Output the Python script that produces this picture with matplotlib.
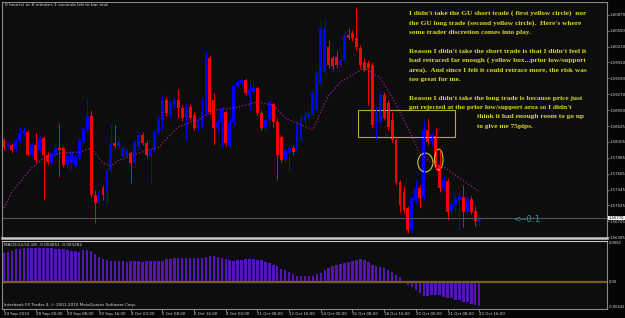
import numpy as np
import matplotlib
matplotlib.use("Agg")
import matplotlib.pyplot as plt
from matplotlib.patches import Rectangle, Ellipse

# GBPUSD H4 bars, 24 Sep 2010 16:00 .. 22 Oct 2010 16:00
opens = [1.5834, 1.5820, 1.5824, 1.5816, 1.5832, 1.5849, 1.5851, 1.5804, 1.5824, 1.5814,
         1.5839, 1.5804, 1.5790, 1.5804, 1.5818, 1.5818, 1.5784, 1.5788, 1.5782, 1.5798,
         1.5830, 1.5855, 1.5883, 1.5724, 1.5707, 1.5738, 1.5728, 1.5774, 1.5828, 1.5822,
         1.5800, 1.5802, 1.5808, 1.5788, 1.5820, 1.5845, 1.5828, 1.5802, 1.5814, 1.5849,
         1.5875, 1.5915, 1.5885, 1.5907, 1.5915, 1.5899, 1.5879, 1.5901, 1.5885, 1.5859,
         1.5861, 1.5891, 1.6000, 1.5915, 1.5859, 1.5871, 1.5891, 1.5824, 1.5871, 1.5943,
         1.5950, 1.5956, 1.5925, 1.5931, 1.5939, 1.5889, 1.5859, 1.5875, 1.5907, 1.5871,
         1.5841, 1.5794, 1.5808, 1.5818, 1.5814, 1.5839, 1.5873, 1.5879, 1.5885, 1.5895,
         1.5950, 1.5972, 1.6022, 1.6000, 1.6002, 1.5986, 1.5996, 1.6046, 1.6050, 1.6040,
         1.6020, 1.5992, 1.5990, 1.5986, 1.5869, 1.5871, 1.5925, 1.5909, 1.5875, 1.5834,
         1.5750, 1.5730, 1.5697, 1.5653, 1.5713, 1.5738, 1.5719, 1.5855, 1.5832, 1.5843,
         1.5784, 1.5738, 1.5752, 1.5691, 1.5703, 1.5713, 1.5719, 1.5689, 1.5715, 1.5691,
         1.5671]
highs = [1.5839, 1.5830, 1.5828, 1.5839, 1.5861, 1.5861, 1.5855, 1.5828, 1.5849, 1.5843,
         1.5843, 1.5810, 1.5812, 1.5822, 1.5869, 1.5822, 1.5808, 1.5814, 1.5804, 1.5839,
         1.5861, 1.5919, 1.5895, 1.5733, 1.5733, 1.5744, 1.5778, 1.5865, 1.5865, 1.5839,
         1.5822, 1.5818, 1.5812, 1.5834, 1.5849, 1.5851, 1.5834, 1.5818, 1.5855, 1.5881,
         1.5927, 1.5921, 1.5915, 1.5919, 1.5937, 1.5905, 1.5907, 1.5907, 1.5891, 1.5879,
         1.5919, 1.6014, 1.6006, 1.5929, 1.5879, 1.5901, 1.5895, 1.5879, 1.5947, 1.5956,
         1.5958, 1.5960, 1.5950, 1.5956, 1.5943, 1.5895, 1.5879, 1.5915, 1.5911, 1.5879,
         1.5845, 1.5818, 1.5824, 1.5824, 1.5875, 1.5885, 1.5891, 1.5895, 1.5935, 1.5976,
         1.6073, 1.6077, 1.6036, 1.6006, 1.6016, 1.6006, 1.6056, 1.6060, 1.6056, 1.6103,
         1.6026, 1.6000, 1.5996, 1.5992, 1.5903, 1.5931, 1.5931, 1.5915, 1.5891, 1.5841,
         1.5754, 1.5742, 1.5701, 1.5721, 1.5754, 1.5744, 1.5875, 1.5879, 1.5851, 1.5859,
         1.5814, 1.5762, 1.5758, 1.5713, 1.5727, 1.5730, 1.5744, 1.5721, 1.5721, 1.5701,
         1.5685]
lows = [1.5814, 1.5816, 1.5808, 1.5810, 1.5828, 1.5843, 1.5802, 1.5800, 1.5790, 1.5810,
        1.5713, 1.5786, 1.5786, 1.5800, 1.5760, 1.5780, 1.5778, 1.5774, 1.5778, 1.5794,
        1.5826, 1.5851, 1.5719, 1.5667, 1.5703, 1.5713, 1.5703, 1.5768, 1.5818, 1.5818,
        1.5794, 1.5798, 1.5748, 1.5784, 1.5816, 1.5824, 1.5800, 1.5750, 1.5810, 1.5845,
        1.5855, 1.5883, 1.5881, 1.5899, 1.5879, 1.5873, 1.5834, 1.5873, 1.5855, 1.5853,
        1.5857, 1.5887, 1.5887, 1.5824, 1.5851, 1.5820, 1.5822, 1.5820, 1.5865, 1.5939,
        1.5943, 1.5925, 1.5895, 1.5929, 1.5885, 1.5855, 1.5855, 1.5869, 1.5861, 1.5754,
        1.5790, 1.5788, 1.5774, 1.5804, 1.5810, 1.5830, 1.5867, 1.5875, 1.5881, 1.5891,
        1.5945, 1.5968, 1.5980, 1.5976, 1.5980, 1.5982, 1.5992, 1.6036, 1.6034, 1.6016,
        1.5980, 1.5972, 1.5905, 1.5859, 1.5834, 1.5867, 1.5875, 1.5855, 1.5830, 1.5744,
        1.5689, 1.5687, 1.5647, 1.5647, 1.5707, 1.5697, 1.5713, 1.5824, 1.5822, 1.5774,
        1.5730, 1.5733, 1.5673, 1.5683, 1.5689, 1.5653, 1.5659, 1.5685, 1.5685, 1.5661,
        1.5661]
closes = [1.5820, 1.5824, 1.5814, 1.5832, 1.5849, 1.5853, 1.5804, 1.5824, 1.5794, 1.5839,
          1.5804, 1.5790, 1.5808, 1.5818, 1.5814, 1.5784, 1.5802, 1.5810, 1.5800, 1.5834,
          1.5857, 1.5883, 1.5724, 1.5707, 1.5730, 1.5724, 1.5774, 1.5828, 1.5822, 1.5832,
          1.5818, 1.5814, 1.5788, 1.5830, 1.5845, 1.5828, 1.5804, 1.5814, 1.5851, 1.5875,
          1.5911, 1.5889, 1.5909, 1.5913, 1.5899, 1.5879, 1.5901, 1.5879, 1.5859, 1.5871,
          1.5891, 1.6000, 1.5891, 1.5859, 1.5871, 1.5895, 1.5828, 1.5871, 1.5943, 1.5952,
          1.5956, 1.5929, 1.5935, 1.5939, 1.5889, 1.5859, 1.5875, 1.5911, 1.5871, 1.5804,
          1.5794, 1.5814, 1.5818, 1.5810, 1.5867, 1.5875, 1.5883, 1.5889, 1.5929, 1.5970,
          1.6058, 1.6060, 1.5986, 1.5984, 1.5986, 1.5996, 1.6046, 1.6040, 1.6040, 1.6022,
          1.5986, 1.5976, 1.5980, 1.5865, 1.5895, 1.5925, 1.5879, 1.5861, 1.5834, 1.5750,
          1.5703, 1.5693, 1.5653, 1.5717, 1.5738, 1.5717, 1.5855, 1.5830, 1.5845, 1.5784,
          1.5738, 1.5754, 1.5689, 1.5705, 1.5717, 1.5721, 1.5689, 1.5715, 1.5689, 1.5671,
          1.5677]

# moving average (dotted), read at a few bars
ma_bars = [0, 2, 7, 10, 14, 19, 22, 25, 27, 29, 34, 39, 44, 49, 53, 58, 64, 68, 71, 75,
           78, 80, 82, 85, 91, 95, 98, 101, 105, 108, 111, 115, 120]
ma_values = [1.5697, 1.5730, 1.5778, 1.5798, 1.5808, 1.5810, 1.5818, 1.5788, 1.5782, 1.5794,
             1.5808, 1.5820, 1.5861, 1.5875, 1.5895, 1.5899, 1.5911, 1.5905, 1.5879, 1.5865,
             1.5855, 1.5891, 1.5925, 1.5952, 1.5980, 1.5960, 1.5921, 1.5875, 1.5808, 1.5788,
             1.5780, 1.5758, 1.5730]

# MACD(24,52,18) histogram
macd_hist = [0.0058, 0.0060, 0.0062, 0.0066, 0.0067, 0.0068, 0.0068, 0.0068, 0.0068, 0.0068,
             0.0068, 0.0068, 0.0068, 0.0067, 0.0067, 0.0066, 0.0064, 0.0062, 0.0062, 0.0060,
             0.0064, 0.0064, 0.0062, 0.0056, 0.0050, 0.0046, 0.0044, 0.0042, 0.0042, 0.0042,
             0.0042, 0.0041, 0.0042, 0.0042, 0.0042, 0.0041, 0.0042, 0.0042, 0.0042, 0.0042,
             0.0043, 0.0046, 0.0047, 0.0048, 0.0048, 0.0048, 0.0048, 0.0048, 0.0048, 0.0048,
             0.0048, 0.0050, 0.0052, 0.0052, 0.0050, 0.0048, 0.0046, 0.0044, 0.0042, 0.0044,
             0.0045, 0.0046, 0.0046, 0.0046, 0.0045, 0.0044, 0.0040, 0.0038, 0.0035, 0.0032,
             0.0026, 0.0024, 0.0020, 0.0016, 0.0013, 0.0012, 0.0012, 0.0012, 0.0013, 0.0016,
             0.0018, 0.0024, 0.0028, 0.0032, 0.0034, 0.0036, 0.0038, 0.0040, 0.0043, 0.0045,
             0.0046, 0.0044, 0.0040, 0.0034, 0.0032, 0.0030, 0.0028, 0.0025, 0.0020, 0.0014,
             0.0010, 0.0003, -0.0006, -0.0010, -0.0016, -0.0022, -0.0028, -0.0027, -0.0026, -0.0025,
             -0.0026, -0.0029, -0.0031, -0.0032, -0.0035, -0.0036, -0.0039, -0.0040, -0.0043, -0.0046,
             -0.0048]

price_labels = ["1.60870", "1.60550", "1.60230", "1.59910", "1.59590", "1.59270", "1.58950",
                "1.58625", "1.58305", "1.57985", "1.57665", "1.57345", "1.57025", "1.56705",
                "1.56385"]
date_labels = ["24 Sep 2010", "28 Sep 00:00", "29 Sep 08:00", "30 Sep 16:00", "4 Oct 00:00",
               "5 Oct 08:00", "6 Oct 16:00", "8 Oct 00:00", "11 Oct 08:00", "12 Oct 16:00",
               "14 Oct 00:00", "15 Oct 08:00", "18 Oct 16:00", "20 Oct 00:00", "21 Oct 08:00",
               "22 Oct 16:00"]
macd_labels = ["0.0082", "0.00", "-0.00642"]

# annotations drawn on the chart
box_bars = (89.4, 113.9)
box_prices = (1.5841, 1.5895)
circle1 = (106.4, 1.5789, 3.8, 0.0038)
circle2 = (109.8, 1.5795, 2.1, 0.0042)

note_lines = [
    "I didn't take the GU short trade ( first yellow circle)  nor",
    "the GU long trade (second yellow circle).  Here's where",
    "some trader discretion comes into play.",
    "",
    "Reason I didn't take the short trade is that I didn't feel it",
    "had retraced far enough ( yellow box...prior low/support",
    "area).  And since I felt it could retrace more, the risk was",
    "too great for me.",
    "",
    "Reason I didn't take the long trade is because price just",
    "got rejected at the prior low/support area so I didn't",
]
note_tail = ["think it had enough room to go up", "to give me 75pips."]

W, H = 625, 318
BG = "#0d0d0d"
GREY = "#8a8a8a"
TXT = "#d8d8d8"
YEL = "#d8d820"

fig = plt.figure(figsize=(W / 100, H / 100), dpi=100, facecolor="#050505")
ax = fig.add_axes([2 / W, 1 - 238 / H, 605 / W, 236 / H])
ax2 = fig.add_axes([2 / W, 1 - 309 / H, 605 / W, 68 / H], sharex=ax)

o = np.array(opens)
hi = np.array(highs)
lo = np.array(lows)
c = np.array(closes)
x = np.arange(len(c))
cols = np.where(c >= o, "#0000ff", "#ff0000")

# candles
ax.vlines(x, lo, hi, colors=cols, linewidth=0.7)
ax.bar(x, np.maximum(np.abs(c - o), 0.00005), bottom=np.minimum(o, c),
       width=0.72, color=cols, linewidth=0)

ax.plot(ma_bars, ma_values, color="#a01ea0", linestyle=(0, (1, 1.6)), linewidth=0.9)
ax.axhline(c[-1], color="#555555", linewidth=0.8)

ax.add_patch(Rectangle((box_bars[0], box_prices[0]), box_bars[1] - box_bars[0],
                       box_prices[1] - box_prices[0], fill=False,
                       edgecolor="#b0b040", linewidth=0.8))
for cx, cy, ew, eh in (circle1, circle2):
    ax.add_patch(Ellipse((cx, cy), ew, eh, fill=False, edgecolor="#c8c840", linewidth=0.8))

px_bar = 3.96
left = -(4 - 2) / px_bar
ax.set_xlim(left, left + 605 / px_bar)
ax.set_ylim(1.56367, 1.6113)

ax.set_facecolor(BG)
for s in ax.spines.values():
    s.set_color(GREY)
    s.set_linewidth(0.8)
ax.spines["bottom"].set_color("#c8c8c8")
ax.spines["bottom"].set_linewidth(1.8)
ax.yaxis.tick_right()
ax.set_yticks([float(v) for v in price_labels])
ax.set_yticklabels(price_labels)
ax.tick_params(axis="y", colors=GREY, labelcolor=TXT, labelsize=2.8, length=1.5, pad=0.4, width=0.6)
ax.tick_params(axis="x", bottom=False, labelbottom=False)

# current price tag
ax.text(1.003, c[-1], f"{c[-1]:.5f}", transform=ax.get_yaxis_transform(),
        fontsize=2.7, color="#101010", va="center", ha="left",
        bbox=dict(boxstyle="square,pad=0.1", fc="#f0f0f0", ec="none"))

fig.text(513 / W, 1 - 220 / H, "<--0:1", color="#2e96aa", fontsize=6.2, va="center", ha="left")

# MACD window
ax2.bar(x, macd_hist, width=0.62, color="#5414b8", linewidth=0)
ax2.axhline(0, color="#74601a", linewidth=1.6)
ax2.set_ylim(-0.0054, 0.0082)
ax2.set_facecolor(BG)
for s in ax2.spines.values():
    s.set_color(GREY)
    s.set_linewidth(0.8)
ax2.spines["top"].set_color("#c8c8c8")
ax2.set_yticks([])
lo2, hi2 = ax2.get_ylim()
for val, lab, va in zip((hi2, 0.0, lo2), macd_labels, ("top", "center", "bottom")):
    ax2.text(1.003, val, lab, transform=ax2.get_yaxis_transform(), fontsize=2.6,
             color=TXT, va=va, ha="left")

ax2.set_xticks(np.arange(len(date_labels)) * 8)
ax2.set_xticklabels(date_labels, ha="left")
ax2.tick_params(axis="x", colors=GREY, labelcolor=TXT, labelsize=2.9, length=2, pad=0.5, width=0.6)

ax2.text(0.003, 0.97, "MACD(24,52,18) -0.004851 -0.003282", transform=ax2.transAxes,
         fontsize=3.0, color=TXT, va="top", ha="left")
ax2.text(0.003, 0.03, "Interbank FX Trader 4, \u00a9 2001-2010 MetaQuotes Software Corp.",
         transform=ax2.transAxes, fontsize=3.0, color=TXT, va="bottom", ha="left")

fig.text(5 / W, 1 - 4.5 / H, "0 hour(s) or 8 minutes 1 seconds left to bar end",
         fontsize=3.1, color=TXT, va="center", ha="left")

# the trader's note
y0 = 13.5
for i, line in enumerate(note_lines):
    if line:
        fig.text(409 / W, 1 - (y0 + 9.4 * i) / H, line, family="Liberation Serif",
                 fontsize=5.3, fontweight="bold", color=YEL, va="center", ha="left")
for j, line in enumerate(note_tail):
    fig.text(477 / W, 1 - (y0 + 9.4 * (len(note_lines) + j)) / H, line,
             family="Liberation Serif", fontsize=5.3, fontweight="bold", color=YEL,
             va="center", ha="left")

fig.savefig("out.png", dpi=100, facecolor=fig.get_facecolor())
